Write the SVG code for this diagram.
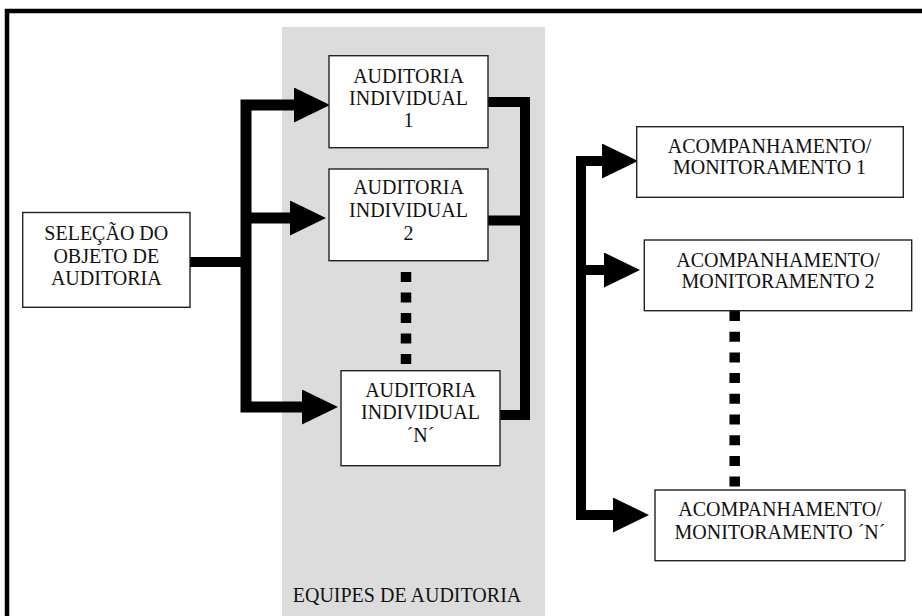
<svg xmlns="http://www.w3.org/2000/svg" width="922" height="616" viewBox="0 0 922 616">
<defs>
<style>
.box{fill:#fff;stroke:#222;stroke-width:1.4}
.t{font-family:"Liberation Serif","Times New Roman",serif;font-size:20px;fill:#111;text-anchor:middle}
.c{fill:none;stroke:#000;stroke-linejoin:miter;stroke-linecap:butt}
.d{fill:none;stroke:#000;stroke-linecap:butt}
</style>
<marker id="ah" markerUnits="userSpaceOnUse" markerWidth="38" markerHeight="38" refX="0" refY="17.5" orient="auto-start-reverse" viewBox="0 0 38 38">
<path d="M0,0 L36,17.5 L0,35 Z" fill="#000"/>
</marker>
</defs>
<rect x="7" y="11" width="1000" height="1000" fill="#fff" stroke="#000" stroke-width="4.5"/>
<rect id="equipes-panel" x="282" y="27" width="263" height="600" fill="#dcdcdc"/>
<text class="t" x="407" y="602">EQUIPES DE AUDITORIA</text>
<g id="connectors">
<path class="c" stroke-width="11" d="M294,105 H246 V407 H302" marker-start="url(#ah)" marker-end="url(#ah)"/>
<path class="c" stroke-width="11" d="M246,218 H290" marker-end="url(#ah)"/>
<path class="c" stroke-width="10" d="M190,262 H246"/>
<path class="c" stroke-width="10" d="M488,102 H525 V415 H500"/>
<path class="c" stroke-width="10" d="M488,220.5 H525"/>
<path class="c" stroke-width="10" d="M602,161 H581 V515 H613" marker-start="url(#ah)" marker-end="url(#ah)"/>
<path class="c" stroke-width="10" d="M581,270 H604" marker-end="url(#ah)"/>
<path class="d" stroke-width="10.5" stroke-dasharray="10 10.5" d="M406,272 V364"/>
<path class="d" stroke-width="10.5" stroke-dasharray="10 10.7" d="M734.7,311 V487"/>
</g>
<g id="selecao">
<rect class="box" x="22.7" y="212.5" width="167.3" height="94.8"/>
<text class="t" x="106.3" y="239.5">SELEÇÃO DO</text>
<text class="t" x="106.3" y="262.5">OBJETO DE</text>
<text class="t" x="106.3" y="285">AUDITORIA</text>
</g>
<g id="auditoria-1">
<rect class="box" x="329" y="55.7" width="159" height="92"/>
<text class="t" x="408.5" y="82.5">AUDITORIA</text>
<text class="t" x="408.5" y="104.5">INDIVIDUAL</text>
<text class="t" x="408.5" y="126.5">1</text>
</g>
<g id="auditoria-2">
<rect class="box" x="329" y="169" width="159" height="91.7"/>
<text class="t" x="408.5" y="193.5">AUDITORIA</text>
<text class="t" x="408.5" y="217">INDIVIDUAL</text>
<text class="t" x="408.5" y="240">2</text>
</g>
<g id="auditoria-n">
<rect class="box" x="341" y="370.7" width="159" height="95"/>
<text class="t" x="420.5" y="396.7">AUDITORIA</text>
<text class="t" x="420.5" y="419.3">INDIVIDUAL</text>
<text class="t" x="420.5" y="441.7">´N´</text>
</g>
<g id="acomp-1">
<rect class="box" x="636.7" y="126.7" width="266.6" height="70.6"/>
<text class="t" x="769.5" y="152.7">ACOMPANHAMENTO/</text>
<text class="t" x="769.5" y="174.3">MONITORAMENTO 1</text>
</g>
<g id="acomp-2">
<rect class="box" x="644.3" y="240" width="267.4" height="70.7"/>
<text class="t" x="778" y="266.7">ACOMPANHAMENTO/</text>
<text class="t" x="778" y="288.3">MONITORAMENTO 2</text>
</g>
<g id="acomp-n">
<rect class="box" x="655" y="490" width="250" height="70.7"/>
<text class="t" x="780" y="516">ACOMPANHAMENTO/</text>
<text class="t" x="780" y="539.3">MONITORAMENTO ´N´</text>
</g>
</svg>
